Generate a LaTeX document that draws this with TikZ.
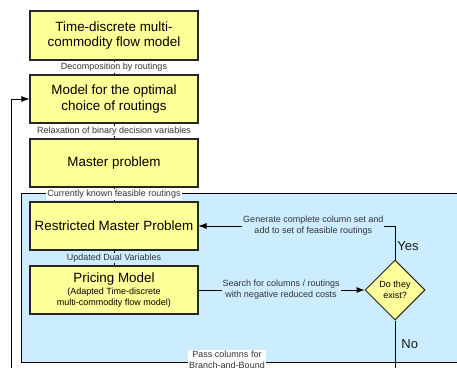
\documentclass[tikz,border=0pt]{standalone}
\usepackage{fontspec}
\setmainfont{Liberation Sans}
\usetikzlibrary{shapes.geometric,arrows.meta}
\definecolor{boxyellow}{RGB}{255,255,153}
\definecolor{regionblue}{RGB}{204,236,255}
\newcommand{\subf}{\fontsize{9}{11}\selectfont}
\begin{document}
\begin{tikzpicture}[x=1pt,y=-1pt,
  box/.style={draw=black!85, line width=1.1pt, fill=boxyellow, minimum width=168pt, minimum height=48pt, align=center, font=\fontsize{13.4}{15.4}\selectfont, inner sep=0pt},
  lbl/.style={font=\fontsize{9}{10.8}\selectfont, text=black!80, align=center, inner sep=1pt},
  conn/.style={draw=black, line width=0.8pt},
  arr/.style={conn, -{Latex[length=8pt,width=6pt]}},
  yesno/.style={font=\fontsize{13}{15}\selectfont, text=black!90, inner sep=1pt}
]
\clip (0,0) rectangle (457,367);
\draw[fill=regionblue, line width=0.9pt] (21,193) rectangle (480,362);

\node[box, minimum height=49pt] (b1) at (114,35.5) {Time-discrete multi-\\commodity flow model};
\node[box] (b2) at (114,99) {Model for the optimal\\choice of routings};
\node[box] (b3) at (114,163) {Master problem};
\node[box] (b4) at (114,226) {Restricted Master Problem};
\node[box] (b5) at (114,290) {Pricing Model\\[-3.4pt]\subf (Adapted Time-discrete\\[-4.4pt]\subf multi-commodity flow model)};
\node[draw=black!85, line width=1pt, fill=boxyellow, diamond, minimum width=60pt, minimum height=60pt, inner sep=0pt, align=center, font=\fontsize{9}{11}\selectfont] (d) at (395,290) {Do they\\exist?};

\coordinate (nb) at (395,378);
\coordinate (lb) at (11,378);

\draw[conn] (b1) -- node[lbl, fill=white]{Decomposition by routings} (b2);
\draw[conn] (b2) -- node[lbl, fill=white]{Relaxation of binary decision variables} (b3);
\draw[conn] (b3) -- node[lbl, fill=white]{Currently known feasible routings} (b4);
\draw[conn] (b4) -- node[lbl, fill=regionblue]{Updated Dual Variables} (b5);

\draw[arr] (d.north) |- node[pos=0.708, lbl, fill=regionblue]{Generate complete column set and\\add to set of feasible routings} node[pos=0.2, anchor=west, yesno, xshift=1pt]{Yes} (b4.east);
\draw[arr] (b5.east) -- node[lbl, fill=regionblue, pos=0.497]{Search for columns / routings\\with negative reduced costs} (d.west);
\draw[arr] (d.south) -- node[pos=0.41, anchor=west, yesno, xshift=5pt]{No} (nb) -- node[pos=0.4375, lbl, fill=white, yshift=18pt]{Pass columns for\\Branch-and-Bound} (lb) |- (b2.west);
\end{tikzpicture}
\end{document}
